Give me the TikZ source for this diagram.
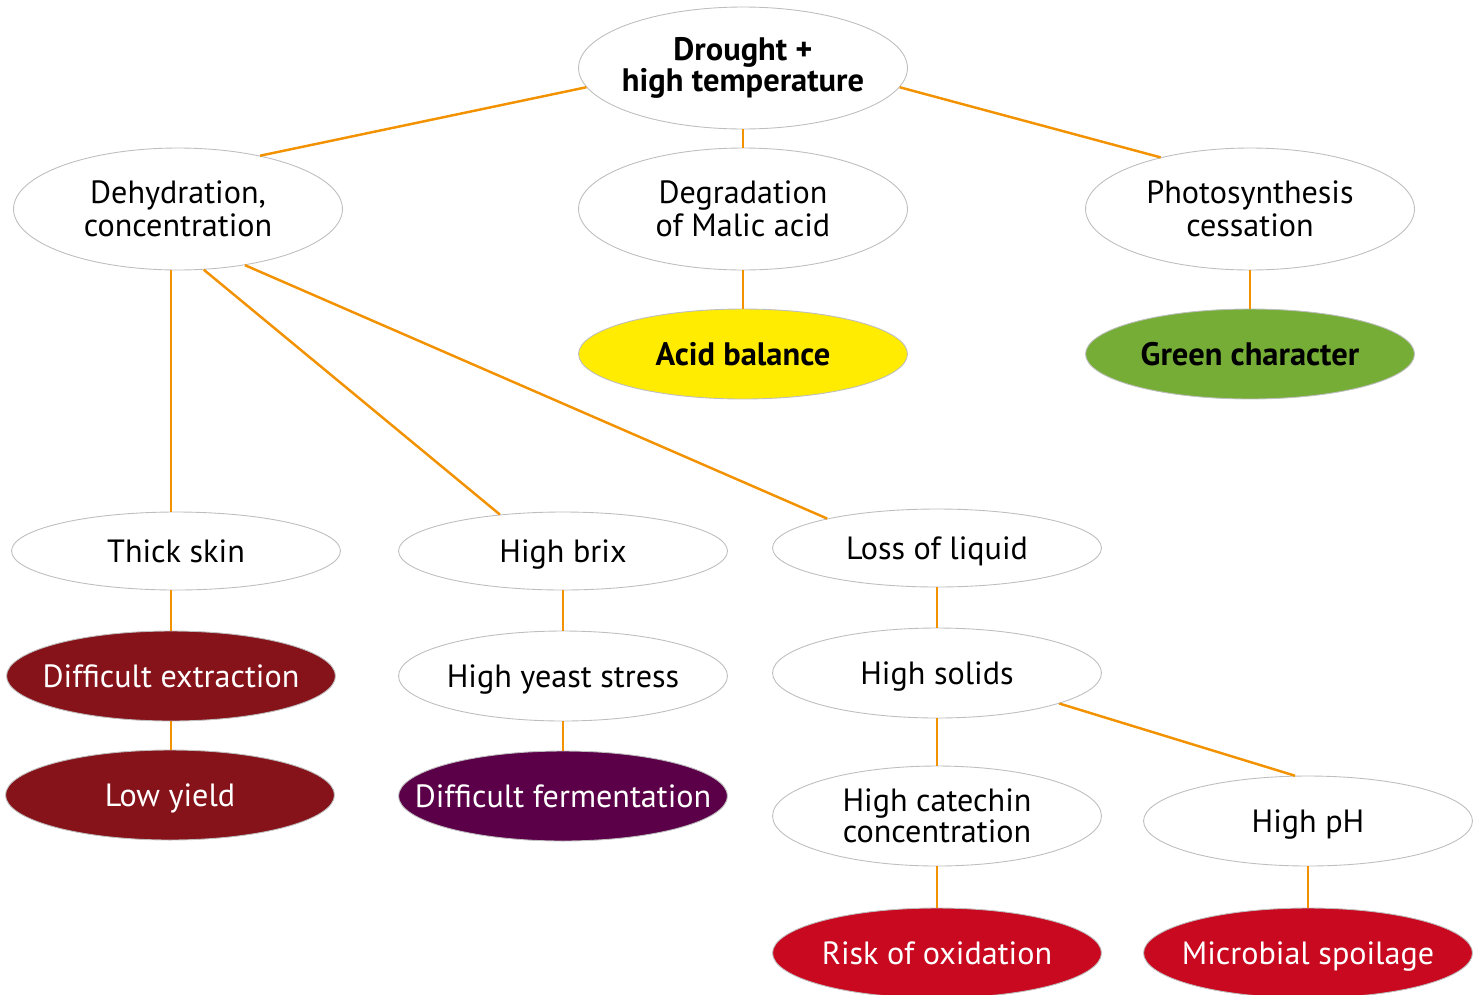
\documentclass[tikz,border=0pt]{standalone}
\usepackage{fontspec}
\setmainfont{PT Sans}
\usetikzlibrary{shapes.geometric, positioning}
\tikzset{every picture/.style={line width=0.75pt}}

\definecolor{linkorange}{RGB}{242,146,0}
\definecolor{rimgray}{RGB}{190,190,190}
\definecolor{acidyellow}{RGB}{255,236,0}
\definecolor{leafgreen}{RGB}{118,173,55}
\definecolor{winered}{RGB}{134,19,26}
\definecolor{grapepurple}{RGB}{91,0,72}
\definecolor{alarmred}{RGB}{201,9,31}

\begin{document}
\begin{tikzpicture}[
		x=0.02cm, y=-0.02cm,
		% Plain outlined ellipse
		bubble/.style={
			ellipse,
			draw=rimgray,
			line width=0.5pt,
			fill=white,
			align=center,
			inner xsep=-1cm,
			inner ysep=-0.5cm,
			minimum width=6.58cm,
			minimum height=1.8cm,
			font=\fontsize{18.3}{19}\selectfont
		},
		tall/.style={minimum height=2.44cm},
		flat/.style={minimum height=1.56cm},
		% Same text box for every single line
		oneline/.style={text height=16pt, text depth=2.4pt},
		% Filled consequence ellipse
		outcome/.style={bubble, oneline, text=white},
		% Orange connector
		link/.style={draw=linkorange, line width=1.4pt}
		]
		
		% Page frame
		\useasboundingbox (0,0) rectangle (1483,994);
		
		% --- Top level ---
		\node[bubble, tall, font=\fontsize{18.5}{18}\selectfont\bfseries] (drought) at (743,68) {Drought +\\high temperature};
		
		% --- Second level ---
		\node[bubble, tall] (dehyd) at (178,209) {Dehydration,\\concentration};
		\node[bubble, tall] (malic) at (743,209) {Degradation\\of Malic acid};
		\node[bubble, tall] (photo) at (1250,209) {Photosynthesis\\cessation};
		\node[outcome, fill=acidyellow, text=black, font=\fontsize{18.5}{19}\selectfont\bfseries] (acid) at (743,354) {Acid balance};
		\node[outcome, fill=leafgreen, text=black, font=\fontsize{18.5}{19}\selectfont\bfseries] (green) at (1250,354) {Green character};
		
		% --- Third level ---
		\node[bubble, flat, oneline] (skin) at (176,551) {Thick skin};
		\node[bubble, flat, oneline] (brix) at (563,551) {High brix};
		\node[bubble, flat, oneline] (liquid) at (937,548) {Loss of liquid};
		
		\node[outcome, fill=winered] (extract) at (171,676) {Difficult extraction};
		\node[bubble, oneline] (yeast) at (563,676) {High yeast stress};
		\node[bubble, oneline] (solids) at (937,673) {High solids};
		
		\node[outcome, fill=winered] (yield) at (170,795) {Low yield};
		\node[outcome, fill=grapepurple] (ferment) at (563,796) {Difficult fermentation};
		\node[bubble, minimum height=2cm, font=\fontsize{18.3}{17.5}\selectfont] (catechin) at (937,816) {High catechin\\concentration};
		\node[bubble, oneline] (ph) at (1308,821) {High pH};
		
		\node[outcome, fill=alarmred] (oxid) at (937,953) {Risk of oxidation};
		\node[outcome, fill=alarmred] (spoil) at (1308,953) {Microbial spoilage};
		
		% --- Connectors ---
		\draw[link] (drought.187) -- (dehyd.33);
		\draw[link] (drought.south) -- (malic.north);
		\draw[link] (drought.353) -- (photo.150);
		\draw[link] (malic.south) -- (acid.north);
		\draw[link] (photo.south) -- (green.north);
		
		\draw[link] (extract.north |- dehyd.south) -- (extract.north |- skin.north);
		\draw[link] (dehyd.293) -- (brix.150);
		\draw[link] (dehyd.320) -- (liquid.165);
		
		\draw[link] (extract.north |- skin.south) -- (extract.north);
		\draw[link] (extract.south) -- (yield.north -| extract.south);
		\draw[link] (brix.south) -- (yeast.north);
		\draw[link] (yeast.south) -- (ferment.north);
		\draw[link] (liquid.south) -- (solids.north);
		\draw[link] (solids.south) -- (catechin.north);
		\draw[link] (solids.346) -- (ph.106);
		\draw[link] (catechin.south) -- (oxid.north);
		\draw[link] (ph.south) -- (spoil.north);
		
	\end{tikzpicture}
\end{document}
